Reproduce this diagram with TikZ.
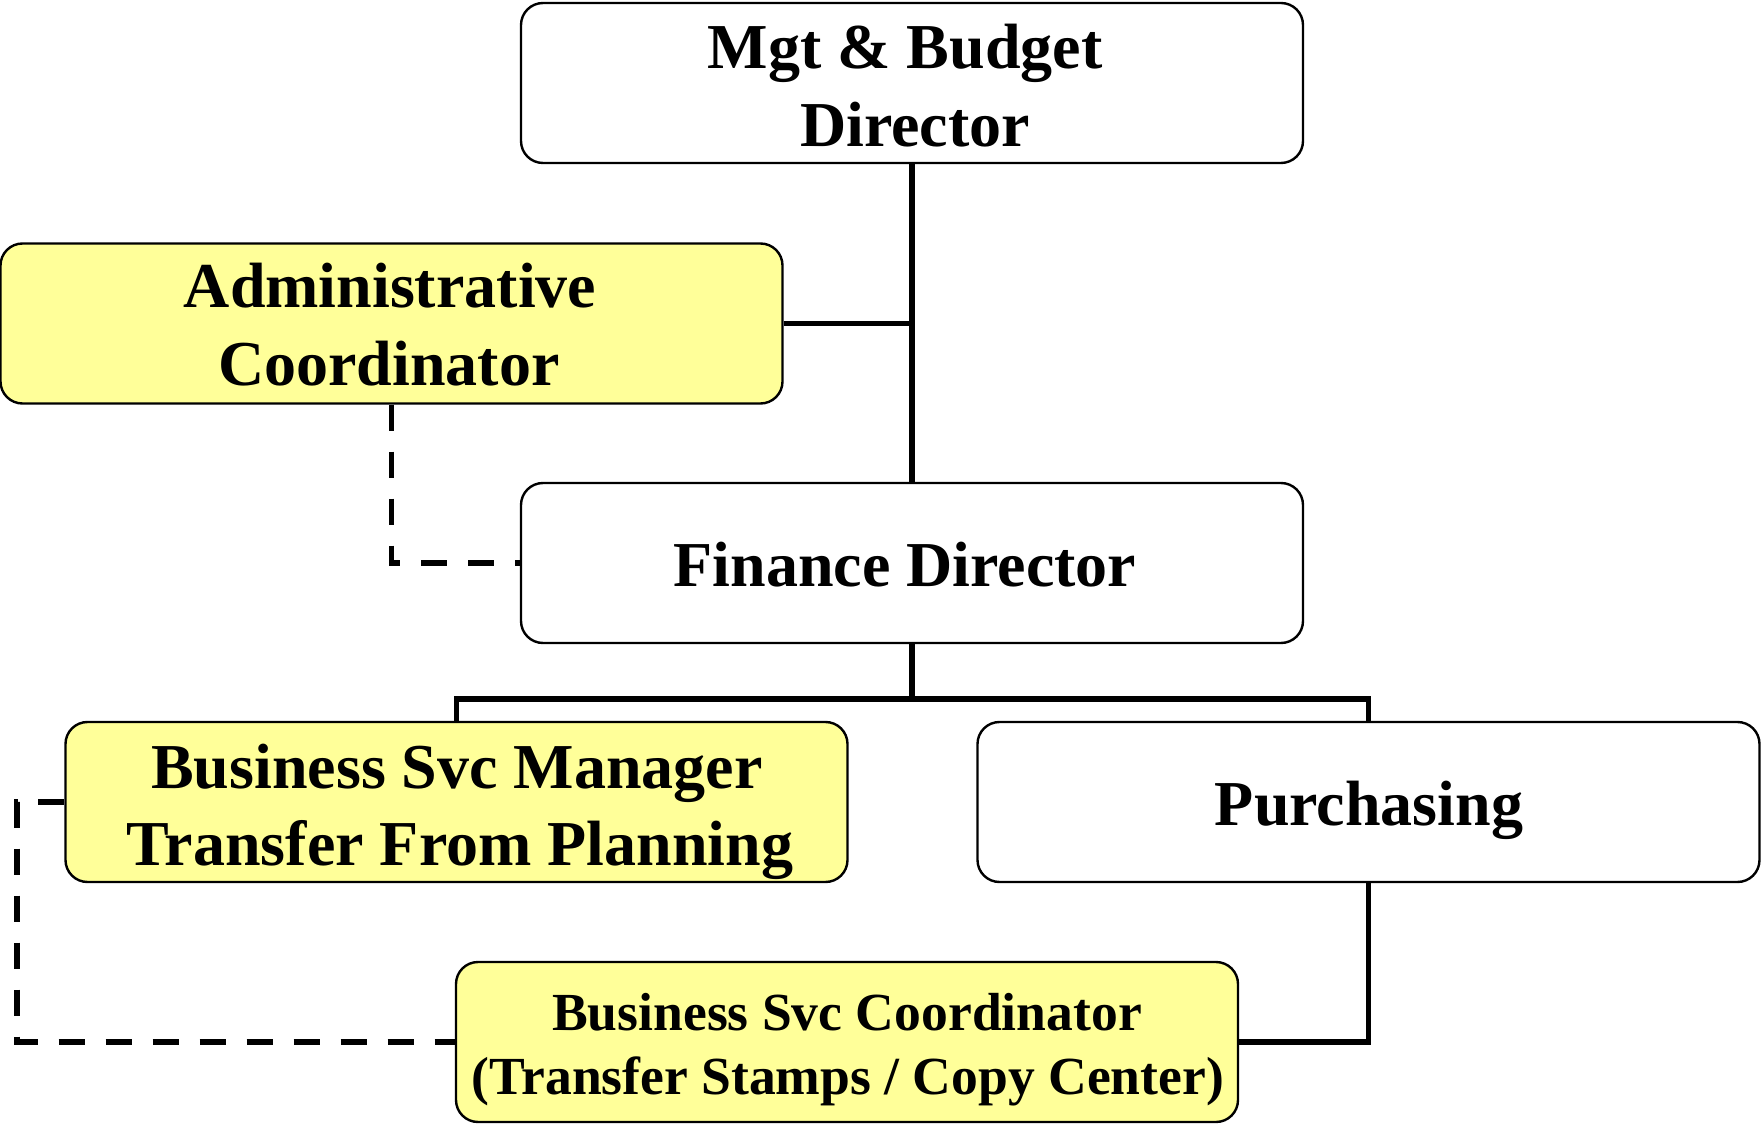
\documentclass[tikz,border=0pt]{standalone}
\usepackage{fontspec}
\setmainfont{Liberation Serif}
\definecolor{boxyellow}{RGB}{255,255,153}
\begin{document}
\begin{tikzpicture}[x=0.5pt,y=-0.5pt,
  box/.style={draw, line width=1.2pt, rounded corners=11pt, minimum width=391pt, minimum height=80pt, inner sep=0pt, fill=white},
  ybox/.style={box, fill=boxyellow},
  big/.style={font=\bfseries\fontsize{32}{32}\selectfont, anchor=base, inner sep=0pt},
  small/.style={font=\bfseries\fontsize{26.8}{26.8}\selectfont, anchor=base, inner sep=0pt},
  conn/.style={line width=2.6pt},
  dconn/.style={line width=2.9pt, dash pattern=on 13pt off 10.5pt}]
\useasboundingbox (0,0) rectangle (1762,1128);

% boxes
\node[box]  (mgt) at (912,83) {};
\node[ybox] (adm) at (391.5,323.5) {};
\node[box]  (fin) at (912,563) {};
\node[ybox] (bsm) at (456.5,802) {};
\node[box]  (pur) at (1368.5,802) {};
\node[ybox] (bsc) at (847,1042) {};

% texts
\node[big] (mgt1) at (905,68.5) {Mgt \& Budget};
\node[big] (mgt2) at (915,146.7) {Director};
\node[big] (adm1) at (390,308) {Administrative};
\node[big] (adm2) at (389,386) {Coordinator};
\node[big] (fin1) at (905,586) {Finance Director};
\node[big] (bsm1) at (457,788) {Business Svc Manager};
\node[big] (bsm2) at (460,865) {Transfer From Planning};
\node[big] (pur1) at (1369,825) {Purchasing};
\node[small] (bsc1) at (847,1030) {Business Svc Coordinator};
\node[small] (bsc2) at (848,1094) {(Transfer Stamps / Copy Center)};

% connectors
\coordinate (j1) at (912,699);
\coordinate (dl) at (17,802);
\draw[conn] (mgt.south) -- (fin.north);
\draw[conn] (adm.east) -- (adm.east -| mgt.south);
\draw[dconn] (adm.south) |- (fin.west);
\draw[conn] (fin.south) -- (j1);
\draw[conn] (bsm.north) |- (j1) -| (pur.north);
\draw[conn] (pur.south) |- (bsc.east);
\draw[dconn] (bsm.west) -- (dl) |- (bsc.west);
\end{tikzpicture}
\end{document}
